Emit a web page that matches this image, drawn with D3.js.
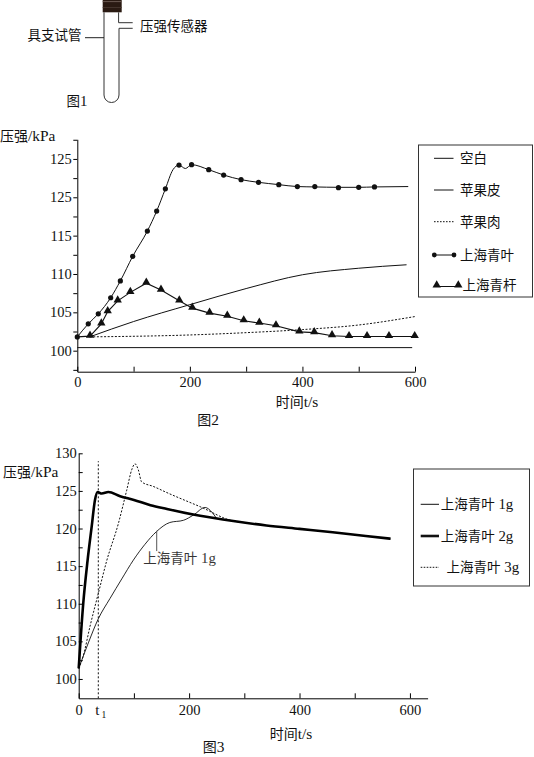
<!DOCTYPE html>
<meta charset="utf-8">

<style type="text/css">
	body { margin: 0; background: #fff; }
	svg { display: block; }
	text { font-family: "Liberation Serif", serif; fill: #111; }
	.cjk { font-family: "Noto Sans CJK SC", sans-serif; }
</style>

<body>

</body>

<script src="https://d3js.org/d3.v7.min.js"></script>

<script>

	// ---------- figure 2 data ----------
	var xTicks2 = [0, 100, 200, 300, 400, 500, 600];
	var yMajor2 = [100, 105, 110, 115, 120, 125];
	var yLabels2 = ["100", "105", "110", "115", "125", "125"];   // as printed
	var yMinor2 = [97.5, 102.5, 107.5, 112.5, 117.5, 122.5, 127.5];

	var blankT = [0, 595];
	var blankP = [100.4, 100.4];

	var peelT = [22, 100, 200, 300, 400, 500, 585];
	var peelP = [101.8, 103.8, 106.0, 108.1, 109.9, 110.75, 111.2];

	var fleshT = [22, 200, 300, 400, 500, 600];
	var fleshP = [101.8, 102.05, 102.35, 102.75, 103.35, 104.45];

	var leafT = [0, 19.5, 37.3, 59.3, 76.5, 98.4, 124.5, 141, 156.5, 180.7, 203, 233.5, 260, 291, 322, 358, 391, 422, 464, 500, 528];
	var leafP = [101.8, 103.5, 104.8, 106.9, 109.1, 112.3, 115.6, 118.2, 121.1, 124.2, 124.25, 123.6, 122.9, 122.3, 121.95, 121.65, 121.4, 121.4, 121.25, 121.3, 121.35];
	// extra line-only points (the small dip and the tail)
	var leafLineT = [0, 19.5, 37.3, 59.3, 76.5, 98.4, 124.5, 141, 156.5, 170, 180.7, 192, 203, 233.5, 260, 291, 322, 358, 391, 422, 464, 500, 528, 588];
	var leafLineP = [101.8, 103.5, 104.8, 106.9, 109.1, 112.3, 115.6, 118.2, 121.1, 123.6, 124.2, 123.75, 124.25, 123.6, 122.9, 122.3, 121.95, 121.65, 121.4, 121.35, 121.3, 121.3, 121.35, 121.4];

	var stemT = [22.6, 42.7, 54, 71.8, 94.2, 122.6, 148.7, 181.2, 204.3, 235, 266.5, 295.7, 323.4, 353, 394.5, 421, 452.6, 482.8, 514.8, 553.8, 599.5];
	var stemP = [101.9, 103.5, 105.1, 106.5, 107.6, 108.8, 107.9, 106.5, 105.55, 104.9, 104.5, 103.9, 103.6, 103.25, 102.45, 102.35, 101.95, 101.85, 101.85, 101.85, 101.85];

	var legend2 = ["空白", "苹果皮", "苹果肉", "上海青叶", "上海青杆"];

	// ---------- figure 3 data ----------
	var xTicks3 = [0, 100, 200, 300, 400, 500, 600];
	var yMajor3 = [100, 105, 110, 115, 120, 125, 130];
	var yMinor3 = [102.5, 107.5, 112.5, 117.5, 122.5, 127.5];
	var t1 = 35.5;

	var g1T = [0, 18, 35.5, 56.7, 78, 99, 120, 141, 165, 190, 208, 229, 241, 250];
	var g1P = [101.4, 104.9, 108.0, 110.7, 113.3, 115.8, 117.9, 119.6, 120.8, 121.1, 121.8, 122.8, 122.2, 121.3];

	var g2T = [0, 8.3, 16, 23.5, 29.5, 34.4, 41.6, 53.6, 75, 100, 130, 160, 220, 280, 340, 400, 460, 520, 565];
	var g2P = [101.4, 110.1, 115.7, 120.25, 123.8, 124.85, 124.65, 124.85, 124.3, 123.8, 123.1, 122.6, 121.7, 121.0, 120.4, 119.95, 119.5, 119.0, 118.65];

	var g3T = [0, 8, 20.5, 37, 50.7, 72, 87, 96, 102, 108, 114, 135, 162, 220, 280, 300];
	var g3P = [101.4, 103, 107, 111.8, 115.7, 120.7, 125.1, 127.8, 128.6, 127.8, 126.2, 125.6, 124.7, 122.9, 121.0, 120.8];

	var legend3 = ["1g", "2g", "3g"];

	var svg = d3.select("body").append("svg")
		.attr("width", 534)
		.attr("height", 757);

	// mixed chinese / latin label; latin parts a bit bigger so they match the CJK glyphs
	function cjkText(g, x, y, parts, size, anchor) {
		var t = g.append("text").attr("x", x).attr("y", y)
			.attr("font-size", size)
			.attr("text-anchor", anchor || "start");
		parts.forEach(function(p) {
			var s = t.append("tspan").text(p[0]);
			if (p[1]) s.attr("class", "cjk");
			else s.attr("font-size", size * 1.1);
		});
		return t;
	}

	function styleAxis(g) {
		g.attr("font-family", "Liberation Serif").attr("font-size", 14.5);
		g.selectAll("text").attr("fill", "#111");
	}

	// ---------- figure 1: test tube ----------
	var f1 = svg.append("g");
	f1.append("rect").attr("x", 102.7).attr("y", 0).attr("width", 19).attr("height", 12.3).attr("fill", "#2a1a12");
	f1.append("line").attr("x1", 102.7).attr("x2", 121.7).attr("y1", 1.6).attr("y2", 1.6).attr("stroke", "#6a5a52").attr("stroke-width", 1);
	f1.append("line").attr("x1", 102.7).attr("x2", 121.7).attr("y1", 7.5).attr("y2", 7.5).attr("stroke", "#4a3a32").attr("stroke-width", 0.8);
	f1.append("path")
		.attr("d", "M104,12.3 V95 A7.5,7.5 0 0 0 119,95 V28.3 H132.7 M132.7,22.7 H118.6 V12.3")
		.attr("fill", "none").attr("stroke", "#333").attr("stroke-width", 1);
	f1.append("line").attr("x1", 85).attr("x2", 104).attr("y1", 37.7).attr("y2", 37.7).attr("stroke", "#222");
	cjkText(f1, 140, 30.8, [["压强传感器", 1]], 13.5);
	cjkText(f1, 27.5, 40.3, [["具支试管", 1]], 13.5);
	cjkText(f1, 66.5, 105.5, [["图", 1], ["1", 0]], 13.5);

	// ---------- figure 2 ----------
	var x2 = d3.scaleLinear().domain([0, 600]).range([77.3, 415]);
	var y2 = d3.scaleLinear().domain([97.26, 127.56]).range([371.7, 139.3]);
	var f2 = svg.append("g");

	f2.append("g").attr("transform", "translate(0,371.7)")
		.call(d3.axisBottom(x2).tickValues(xTicks2)
			.tickFormat(function(d) { return d % 200 === 0 ? d : ""; })
			.tickSize(-5).tickSizeOuter(0).tickPadding(5))
		.call(styleAxis);

	f2.append("g").attr("transform", "translate(77.3,0)")
		.call(d3.axisLeft(y2).tickValues(yMajor2)
			.tickFormat(function(d, i) { return yLabels2[i]; })
			.tickSize(4).tickSizeOuter(0).tickPadding(1.5))
		.call(styleAxis);

	f2.append("g").attr("transform", "translate(77.3,0)")
		.call(d3.axisLeft(y2).tickValues(yMinor2).tickFormat("").tickSize(4))
		.call(function(g) { g.select(".domain").remove(); });

	cjkText(f2, 0, 141, [["压强", 1], ["/kPa", 0]], 14);
	cjkText(f2, 297, 407, [["时间", 1], ["t/s", 0]], 14, "middle");
	cjkText(f2, 208, 424.5, [["图", 1], ["2", 0]], 14, "middle");

	var line2 = d3.line()
		.x(function(d) { return x2(d[0]); })
		.y(function(d) { return y2(d[1]); })
		.curve(d3.curveMonotoneX);
	var lin2 = d3.line()
		.x(function(d) { return x2(d[0]); })
		.y(function(d) { return y2(d[1]); });

	f2.append("path").attr("d", lin2(d3.zip(blankT, blankP)))
		.attr("fill", "none").attr("stroke", "#111").attr("stroke-width", 1);
	f2.append("path").attr("d", line2(d3.zip(peelT, peelP)))
		.attr("fill", "none").attr("stroke", "#111").attr("stroke-width", 1);
	f2.append("path").attr("d", line2(d3.zip(fleshT, fleshP)))
		.attr("fill", "none").attr("stroke", "#111").attr("stroke-width", 1).attr("stroke-dasharray", "2,1.6");
	f2.append("path").attr("d", line2(d3.zip(leafLineT, leafLineP)))
		.attr("fill", "none").attr("stroke", "#111").attr("stroke-width", 1);
	f2.append("path").attr("d", lin2([[0, 101.8]].concat(d3.zip(stemT, stemP))))
		.attr("fill", "none").attr("stroke", "#111").attr("stroke-width", 1.1);

	f2.selectAll("circle.leaf").data(d3.zip(leafT, leafP)).enter()
		.append("circle").attr("class", "leaf")
		.attr("cx", function(d) { return x2(d[0]); })
		.attr("cy", function(d) { return y2(d[1]); })
		.attr("r", 2.6).attr("fill", "#111");

	var tri = d3.symbol().type(d3.symbolTriangle).size(30);
	f2.selectAll("path.stem").data(d3.zip(stemT, stemP)).enter()
		.append("path").attr("class", "stem")
		.attr("d", tri)
		.attr("transform", function(d) { return "translate(" + x2(d[0]) + "," + (y2(d[1]) - 0.8) + ")"; })
		.attr("fill", "#111");

	// legend 2
	var lg2 = f2.append("g");
	lg2.append("rect").attr("x", 418.5).attr("y", 145).attr("width", 114).attr("height", 152)
		.attr("fill", "none").attr("stroke", "#333").attr("stroke-width", 1);
	var ly2 = [158.3, 190, 221.7, 255, 285];
	legend2.forEach(function(name, i) {
		var y = ly2[i];
		if (i < 4) {
			lg2.append("line").attr("x1", 434).attr("x2", 453.5).attr("y1", y).attr("y2", y)
				.attr("stroke", "#111").attr("stroke-width", 1)
				.attr("stroke-dasharray", i === 2 ? "1.6,1.4" : null);
		}
		if (i === 3) {
			[434.3, 454].forEach(function(cx) {
				lg2.append("circle").attr("cx", cx).attr("cy", y).attr("r", 2.4).attr("fill", "#111");
			});
		}
		if (i === 4) {
			lg2.append("line").attr("x1", 436.7).attr("x2", 458.3).attr("y1", y + 1.5).attr("y2", y + 1.5)
				.attr("stroke", "#111").attr("stroke-width", 1);
			[436.7, 458.3].forEach(function(cx) {
				lg2.append("path").attr("d", tri).attr("transform", "translate(" + cx + "," + (y) + ")").attr("fill", "#111");
			});
		}
		cjkText(lg2, i === 4 ? 462.5 : 460, y + 5, [[name, 1]], 13.5);
	});

	// ---------- figure 3 ----------
	var x3 = d3.scaleLinear().domain([0, 632]).range([78.7, 427.6]);
	var y3 = d3.scaleLinear().domain([97.43, 130]).range([698.3, 453.3]);
	var f3 = svg.append("g");

	f3.append("g").attr("transform", "translate(0,698.3)")
		.call(d3.axisBottom(x3).tickValues(xTicks3)
			.tickFormat(function(d) { return d % 200 === 0 ? d : ""; })
			.tickSize(-5).tickSizeOuter(0).tickPadding(6.8))
		.call(styleAxis);

	f3.append("g").attr("transform", "translate(78.7,0)")
		.call(d3.axisLeft(y3).tickValues(yMajor3).tickSize(-4).tickSizeOuter(0).tickPadding(2))
		.call(styleAxis);

	f3.append("g").attr("transform", "translate(78.7,0)")
		.call(d3.axisLeft(y3).tickValues(yMinor3).tickFormat("").tickSize(-4))
		.call(function(g) { g.select(".domain").remove(); });

	// t1 label
	var t1lab = f3.append("text").attr("x", x3(t1) - 3).attr("y", 715).attr("font-size", 15);
	t1lab.append("tspan").text("t");
	t1lab.append("tspan").attr("font-size", 9.5).attr("dy", 2.5).attr("dx", 2).text("1");

	// t1 dotted guide
	f3.append("line")
		.attr("x1", x3(t1)).attr("x2", x3(t1))
		.attr("y1", y3(97.43)).attr("y2", y3(128.95))
		.attr("stroke", "#111").attr("stroke-width", 1).attr("stroke-dasharray", "2,2");

	cjkText(f3, 3, 476.5, [["压强", 1], ["/kPa", 0]], 14);
	cjkText(f3, 291, 738.5, [["时间", 1], ["t/s", 0]], 14, "middle");
	cjkText(f3, 213.5, 752, [["图", 1], ["3", 0]], 14, "middle");

	var line3 = d3.line()
		.x(function(d) { return x3(d[0]); })
		.y(function(d) { return y3(d[1]); })
		.curve(d3.curveMonotoneX);

	f3.append("path").attr("d", line3(d3.zip(g3T, g3P)))
		.attr("fill", "none").attr("stroke", "#111").attr("stroke-width", 1).attr("stroke-dasharray", "2,1.6");
	f3.append("path").attr("d", line3(d3.zip(g1T, g1P)))
		.attr("fill", "none").attr("stroke", "#111").attr("stroke-width", 0.9);
	f3.append("path").attr("d", line3(d3.zip(g2T, g2P)))
		.attr("fill", "none").attr("stroke", "#000").attr("stroke-width", 2.6);

	// annotation for 1g
	f3.append("line").attr("x1", x3(141.3)).attr("x2", x3(141.3))
		.attr("y1", y3(119.7)).attr("y2", y3(117.0))
		.attr("stroke", "#555").attr("stroke-width", 1);
	cjkText(f3, 143.3, 562.5, [["上海青叶", 1], [" 1g", 0]], 13.5).attr("opacity", 0.85);

	// legend 3
	var lg3 = f3.append("g");
	lg3.append("rect").attr("x", 413.5).attr("y", 469).attr("width", 116).attr("height", 117)
		.attr("fill", "none").attr("stroke", "#333").attr("stroke-width", 1);
	var ly3 = [504.3, 536, 567.3];
	legend3.forEach(function(name, i) {
		var y = ly3[i];
		lg3.append("line").attr("x1", 420.7).attr("x2", 439).attr("y1", y).attr("y2", y)
			.attr("stroke", "#111")
			.attr("stroke-width", i === 1 ? 2.6 : 1)
			.attr("stroke-dasharray", i === 2 ? "1.6,1.4" : null);
		cjkText(lg3, i === 2 ? 446.5 : 440.7, y + 5, [["上海青叶", 1], [" " + name, 0]], 13.5);
	});

</script>
